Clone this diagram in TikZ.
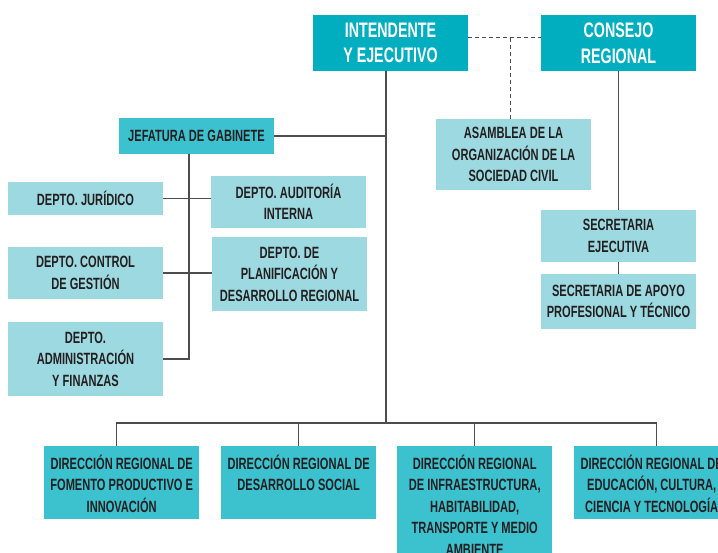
\documentclass[tikz,border=0pt]{standalone}
\usepackage{fontspec}
\setmainfont{Liberation Sans}[FakeStretch=0.68]
\usetikzlibrary{calc}

\definecolor{tealdark}{HTML}{00AEBF}
\definecolor{tealmid}{HTML}{3CC1CF}
\definecolor{teallight}{HTML}{9DD9E0}
\definecolor{inkgray}{HTML}{231F20}
\definecolor{linegray}{HTML}{4D4D4F}

\newcommand\dirtext[2][63pt]{\parbox[c][#1][t]{150pt}{\centering\rule{0pt}{18pt}#2}}

\begin{document}
\begin{tikzpicture}[x=1pt,y=-1pt,
  box/.style={fill=teallight, text=inkgray, font=\bfseries\fontsize{16.3}{21.5}\selectfont, minimum width=155pt, inner sep=2pt, align=center},
  headbox/.style={box, fill=tealdark, text=white, font=\bfseries\fontsize{21}{25.7}\selectfont, minimum height=56pt},
  midbox/.style={box, fill=tealmid},
  dirbox/.style={fill=tealmid, text=inkgray, font=\bfseries\fontsize{16.3}{21.5}\selectfont, minimum width=155pt, inner xsep=2.5pt, inner ysep=5pt, anchor=north west},
  conn/.style={draw=linegray, line width=1.3pt}]
\useasboundingbox (0,0) rectangle (718,552);
\clip (0,0) rectangle (718,552);
%top
\path (390.5,43) node[headbox] (intendente) {INTENDENTE\\Y EJECUTIVO}
	(618.5,43) node[headbox] (consejo) {CONSEJO\\REGIONAL};
%asamblea
\path (513.5,154.5) node[box, minimum height=71pt] (asamblea) {ASAMBLEA DE LA\\ORGANIZACIÓN DE LA\\SOCIEDAD CIVIL};
%gabinete
\path (196.5,136) node[midbox, minimum height=36pt] (jefatura) {JEFATURA DE GABINETE};
%deptos
\path (85.5,198.5) node[box, minimum height=33pt] (juridico) {DEPTO. JURÍDICO}
	(288.5,202) node[box, minimum height=52pt] (auditoria) {DEPTO. AUDITORÍA\\INTERNA}
	(85.5,273) node[box, minimum height=52pt] (control) {DEPTO. CONTROL\\DE GESTIÓN}
	(289.5,274) node[box, minimum height=74pt] (planificacion) {DEPTO. DE\\PLANIFICACIÓN Y\\DESARROLLO REGIONAL}
	(85.5,359) node[box, minimum height=74pt] (admin) {DEPTO.\\ADMINISTRACIÓN\\Y FINANZAS};
%secretarias
\path (618.5,236) node[box, minimum height=52pt] (secejecutiva) {SECRETARIA\\EJECUTIVA}
	(618.5,301.5) node[box, minimum height=55pt] (secapoyo) {SECRETARIA DE APOYO\\PROFESIONAL Y TÉCNICO};
%direcciones
\path (44,446) node[dirbox] (fomento) {\dirtext{DIRECCIÓN REGIONAL DE\\FOMENTO PRODUCTIVO E\\INNOVACIÓN}}
	(221,446) node[dirbox] (social) {\dirtext{DIRECCIÓN REGIONAL DE\\DESARROLLO SOCIAL}}
	(397,446) node[dirbox] (infra) {\dirtext[130pt]{DIRECCIÓN REGIONAL\\DE INFRAESTRUCTURA,\\HABITABILIDAD,\\TRANSPORTE Y MEDIO\\AMBIENTE}}
	(574,446) node[dirbox] (educacion) {\dirtext{DIRECCIÓN REGIONAL DE\\EDUCACIÓN, CULTURA,\\CIENCIA Y TECNOLOGÍA}};

%spine
\coordinate (spine) at ([xshift=-4.5pt]intendente.south);
\coordinate (bus) at (spine |- 0,423);
\draw[conn] (spine) -- (bus);
\draw[conn] (jefatura.east) -- (jefatura.east -| spine);
%bus
\draw[conn] ([xshift=-5.5pt]fomento.north) |- (bus) -| ([xshift=4.5pt]educacion.north);
\draw[conn] (social.north) -- (social.north |- bus)
	(infra.north) -- (infra.north |- bus);
%gabinete
\coordinate (gabtop) at ([xshift=-7.5pt]jefatura.south);
\draw[conn] (gabtop) -- (gabtop |- admin.east) -- (admin.east);
\draw[conn] (juridico.east) -- (juridico.east -| auditoria.west);
\draw[conn] (control.east) -- (control.east -| planificacion.west);
%consejo
\draw[conn] (consejo.south) -- (secejecutiva.north)
	(secejecutiva.south) -- (secapoyo.north);
%sociedad civil
\coordinate (dashtop) at ([yshift=6pt]intendente.east);
\coordinate (asamtop) at ([xshift=-3.5pt]asamblea.north);
\draw[conn, line width=1pt, dash pattern=on 4pt off 3pt] (dashtop) -- (dashtop -| consejo.west);
\draw[conn, line width=1pt, dash pattern=on 4pt off 3pt] (asamtop) -- (asamtop |- dashtop);
\end{tikzpicture}
\end{document}
